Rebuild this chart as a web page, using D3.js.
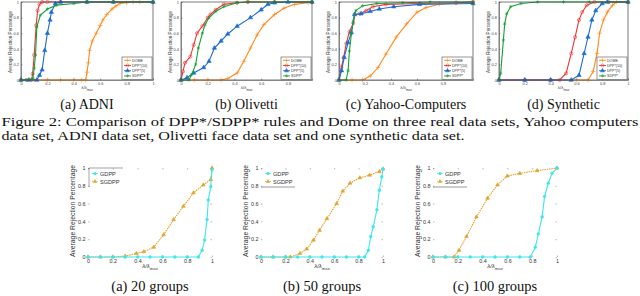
<!DOCTYPE html>
<html>
<head>
<meta charset="utf-8">
<script src="https://cdn.jsdelivr.net/npm/d3@7"></script>
<style>
  body { margin: 0; background: #fff; }
  svg { display: block; }
  .cap { font-family: "Liberation Serif", "Times New Roman", serif; font-size: 14px; fill: #111; }
  .tk text { font-family: "Liberation Sans", Arial, sans-serif; fill: #444; }
  .lab { font-family: "Liberation Sans", Arial, sans-serif; fill: #333; }
</style>
</head>
<body>
<script>
// ---- top row: ADNI, Olivetti, Yahoo-Computers, Synthetic ----
const topNames = ['DOME', 'DPP*(10)', 'DPP*(5)', 'SDPP*']

const adniDome = [[0,0],[0.1,0],[0.2,0],[0.3,0],[0.4,0],[0.46,0],[0.49,0],[0.5,0.1],[0.51,0.22],[0.52,0.38],[0.54,0.5],[0.57,0.6],[0.6,0.7],[0.62,0.77],[0.65,0.84],[0.69,0.91],[0.72,0.95],[0.75,0.98],[0.8,0.99],[0.85,1],[0.9,1],[1,1]]
const adniDpp10 = [[0,0],[0.04,0],[0.08,0],[0.088,0.08],[0.1,0.32],[0.115,0.7],[0.126,0.89],[0.14,0.97],[0.16,1],[0.2,1],[0.3,1],[0.5,1],[0.7,1],[1,1]]
const adniDpp5 = [[0,0],[0.06,0],[0.12,0],[0.14,0.06],[0.16,0.13],[0.18,0.38],[0.2,0.6],[0.22,0.77],[0.23,0.87],[0.26,0.98],[0.3,1],[0.5,1],[0.7,1],[1,1]]
const adniSdpp = [[0,0],[0.05,0],[0.09,0.02],[0.1,0.15],[0.11,0.32],[0.12,0.68],[0.146,0.83],[0.2,0.91],[0.27,0.96],[0.4,0.98],[0.5,1],[0.7,1],[1,1]]

const oliDome = [[0,0],[0.1,0],[0.2,0],[0.3,0],[0.35,0.02],[0.42,0.09],[0.47,0.24],[0.52,0.41],[0.57,0.58],[0.62,0.71],[0.7,0.84],[0.77,0.92],[0.85,0.97],[0.95,0.99],[0.98,1]]
const oliDpp10 = [[0,0],[0.015,0.11],[0.03,0.22],[0.07,0.3],[0.095,0.45],[0.12,0.6],[0.16,0.69],[0.2,0.8],[0.22,0.84],[0.26,0.9],[0.32,0.97],[0.42,0.99],[0.5,1],[0.7,1],[0.98,1]]
const oliDpp5 = [[0,0],[0.045,0.03],[0.095,0.09],[0.17,0.16],[0.21,0.24],[0.25,0.41],[0.3,0.5],[0.35,0.59],[0.42,0.69],[0.52,0.8],[0.6,0.9],[0.65,0.97],[0.7,0.99],[0.8,1],[0.98,1]]
const oliSdpp = [[0,0],[0.06,0],[0.08,0.07],[0.11,0.2],[0.13,0.41],[0.16,0.6],[0.18,0.71],[0.21,0.8],[0.26,0.88],[0.32,0.94],[0.42,0.99],[0.5,1],[0.7,1],[0.98,1]]

const yahDome = [[0,0],[0.1,0],[0.18,0],[0.24,0.05],[0.3,0.16],[0.36,0.33],[0.44,0.55],[0.52,0.72],[0.6,0.87],[0.67,0.93],[0.77,0.97],[0.9,0.99],[1.03,1]]
const yahDpp10 = [[0,0],[0.018,0.16],[0.036,0.29],[0.056,0.47],[0.08,0.62],[0.11,0.73],[0.12,0.84],[0.16,0.85],[0.21,0.89],[0.26,0.94],[0.36,0.97],[0.62,0.98],[0.9,0.99],[1.03,1]]
const yahDpp5 = [[0,0],[0.02,0.12],[0.04,0.29],[0.07,0.48],[0.095,0.61],[0.12,0.84],[0.17,0.85],[0.24,0.88],[0.31,0.91],[0.42,0.94],[0.62,0.97],[1.03,0.98]]
const yahSdpp = [[0,0],[0.055,0],[0.07,0.12],[0.08,0.37],[0.095,0.59],[0.11,0.76],[0.13,0.89],[0.18,0.95],[0.29,0.98],[0.49,0.99],[0.7,1],[1.03,1]]

const synDome = [[0,0],[0.2,0],[0.4,0],[0.6,0],[0.69,0],[0.73,0.11],[0.76,0.34],[0.78,0.6],[0.81,0.77],[0.84,0.87],[0.88,0.96],[0.91,1],[1,1]]
const synDpp10 = [[0,0],[0.2,0],[0.4,0],[0.47,0],[0.52,0.085],[0.56,0.34],[0.59,0.55],[0.62,0.77],[0.645,0.87],[0.68,0.96],[0.74,1],[0.85,1],[1,1]]
const synDpp5 = [[0,0],[0.2,0],[0.4,0],[0.56,0],[0.62,0.06],[0.66,0.34],[0.69,0.55],[0.72,0.77],[0.75,0.89],[0.8,0.98],[0.84,1],[1,1]]
const synSdpp = [[0,0],[0.013,0.085],[0.034,0.51],[0.044,0.72],[0.06,0.85],[0.09,0.94],[0.17,0.98],[0.3,1],[0.5,1],[0.7,1],[1,1]]

const topCaptions = ['(a) ADNI', '(b) Olivetti', '(c) Yahoo-Computers', '(d) Synthetic']
const figCaption = [
  'Figure 2: Comparison of DPP*/SDPP* rules and Dome on three real data sets, Yahoo computers',
  'data set, ADNI data set, Olivetti face data set and one synthetic data set.'
]

// ---- bottom row: group lasso ----
const botNames = ['GDPP', 'SGDPP']
const g20Gdpp = [[0,0],[0.1,0],[0.2,0],[0.3,0],[0.4,0],[0.5,0],[0.6,0],[0.7,0],[0.8,0],[0.89,0],[0.92,0.075],[0.94,0.19],[0.96,0.42],[0.97,0.64],[0.99,0.79],[1,0.98]]
const g20Sgdpp = [[0,0],[0.1,0],[0.2,0],[0.3,0.01],[0.39,0.04],[0.45,0.06],[0.53,0.11],[0.61,0.25],[0.69,0.42],[0.77,0.57],[0.85,0.72],[0.93,0.81],[0.99,0.87],[1,1]]
const g50Gdpp = [[0,0],[0.1,0],[0.2,0],[0.3,0],[0.4,0],[0.5,0],[0.6,0],[0.7,0],[0.8,0],[0.85,0],[0.88,0.075],[0.9,0.23],[0.92,0.34],[0.95,0.53],[0.97,0.75],[0.99,0.9],[1,0.99]]
const g50Sgdpp = [[0,0],[0.1,0],[0.2,0],[0.24,0],[0.32,0.04],[0.375,0.09],[0.43,0.19],[0.48,0.3],[0.54,0.43],[0.62,0.6],[0.67,0.74],[0.73,0.83],[0.81,0.89],[0.89,0.92],[0.97,0.96],[1,0.99]]
const g100Gdpp = [[0,0],[0.1,0],[0.2,0],[0.3,0],[0.4,0],[0.5,0],[0.6,0],[0.7,0],[0.785,0],[0.825,0.11],[0.85,0.26],[0.88,0.45],[0.9,0.68],[0.93,0.83],[0.96,0.94],[1,1]]
const g100Sgdpp = [[0,0],[0.1,0],[0.17,0],[0.21,0.075],[0.27,0.23],[0.35,0.45],[0.44,0.66],[0.52,0.81],[0.6,0.91],[0.7,0.94],[0.84,0.97],[1,1]]

const botCaptions = ['(a) 20 groups', '(b) 50 groups', '(c) 100 groups']
const yTicks = [0, 0.2, 0.4, 0.6, 0.8, 1]

const w = 640
const h = 296

const topColors = ['#ff8a1c', '#f03434', '#1f6cd0', '#12a035']
const topSymbols = [d3.symbolPlus, d3.symbolCircle, d3.symbolTriangle, d3.symbolAsterisk]
const topFilled = [false, false, true, false]
const botColors = ['#3ee6ee', '#e3a22c']

const svg = d3.select('body').append('svg')
  .attr('width', w)
  .attr('height', h)

const fmt = d => d3.format('~g')(d)

drawMarkers = (g, data, x, y, symbol, size, color, filled) => {
  g.selectAll(null)
    .data(data)
    .enter()
    .append('path')
    .attr('d', d3.symbol().type(symbol).size(size))
    .attr('transform', d => `translate(${x(d[0])},${y(d[1])})`)
    .attr('fill', filled ? color : 'none')
    .attr('stroke', color)
    .attr('stroke-width', 0.6)
}

xLabel = (g, cx, cy, fs, italic) => {
  const t = g.append('text').attr('class', 'lab')
    .attr('x', cx).attr('y', cy)
    .attr('text-anchor', 'middle')
    .style('font-size', fs + 'px')
    .style('font-style', italic ? 'italic' : 'normal')
  t.append('tspan').text('λ/λ')
  t.append('tspan').attr('dy', fs * 0.35).style('font-size', (fs * 0.7) + 'px').text('max')
}

yLabel = (g, cx, cy, fs) => {
  g.append('text').attr('class', 'lab')
    .attr('transform', `translate(${cx},${cy}) rotate(-90)`)
    .attr('text-anchor', 'middle')
    .style('font-size', fs + 'px')
    .text('Average Rejection Percentage')
}

// top plots
const topPlots = [
  { x0: 21, x1: 153, xMax: 1, xt: [0, 0.2, 0.4, 0.6, 0.8, 1], ylx: 12, series: [adniDome, adniDpp10, adniDpp5, adniSdpp] },
  { x0: 181, x1: 312, xMax: 0.98, xt: [0, 0.2, 0.4, 0.6, 0.8], ylx: 172, series: [oliDome, oliDpp10, oliDpp5, oliSdpp] },
  { x0: 339, x1: 473, xMax: 1.03, xt: [0, 0.2, 0.4, 0.6, 0.8], ylx: 330, series: [yahDome, yahDpp10, yahDpp5, yahSdpp] },
  { x0: 499, x1: 628, xMax: 1, xt: [0, 0.2, 0.4, 0.6, 0.8, 1], ylx: 490, series: [synDome, synDpp10, synDpp5, synSdpp] }
]

topPlots.forEach((p, i) => {
  const g = svg.append('g')
  const x = d3.scaleLinear().domain([0, p.xMax]).range([p.x0, p.x1])
  const y = d3.scaleLinear().domain([0, 1]).range([80, 2])

  const xAxis = d3.axisBottom(x).tickValues(p.xt).tickSize(-1.5).tickPadding(2).tickFormat(fmt)
  const yAxis = d3.axisLeft(y).tickValues(yTicks).tickSize(-1.5).tickPadding(2).tickFormat(fmt)
  g.append('g').attr('class', 'tk').attr('transform', 'translate(0,80)').call(xAxis)
  g.append('g').attr('class', 'tk').attr('transform', `translate(${p.x0},0)`).call(yAxis)
  g.selectAll('.tk text').style('font-size', '3.9px')
  g.selectAll('.tk path, .tk line').attr('stroke', '#555').attr('stroke-width', 0.5)

  const line = d3.line().x(d => x(d[0])).y(d => y(d[1]))
  p.series.forEach((s, k) => {
    g.append('path').datum(s)
      .attr('d', line)
      .attr('fill', 'none')
      .attr('stroke', topColors[k])
      .attr('stroke-width', 1.1)
    drawMarkers(g, s, x, y, topSymbols[k], 8, topColors[k], topFilled[k])
  })

  // frame
  g.append('rect')
    .attr('x', p.x0).attr('y', 2)
    .attr('width', p.x1 - p.x0).attr('height', 78)
    .attr('fill', 'none').attr('stroke', '#444').attr('stroke-width', 0.7)

  // legend
  const lx = p.x1 - 31, ly = 57
  g.append('rect').attr('x', lx).attr('y', ly).attr('width', 30).attr('height', 22.5)
    .attr('fill', '#fff').attr('stroke', '#333').attr('stroke-width', 0.5)
  topNames.forEach((n, k) => {
    const yy = ly + 3.3 + k * 5.2
    g.append('line').attr('x1', lx + 2).attr('x2', lx + 9).attr('y1', yy).attr('y2', yy)
      .attr('stroke', topColors[k]).attr('stroke-width', 0.9)
    g.append('path').attr('d', d3.symbol().type(topSymbols[k]).size(7))
      .attr('transform', `translate(${lx + 5.5},${yy})`)
      .attr('fill', topFilled[k] ? topColors[k] : 'none')
      .attr('stroke', topColors[k]).attr('stroke-width', 0.5)
    g.append('text').attr('class', 'lab')
      .attr('x', lx + 10).attr('y', yy + 1.3)
      .style('font-size', '3.6px')
      .text(n)
  })

  xLabel(g, (p.x0 + p.x1) / 2, 89, 4.4, false)
  yLabel(g, p.ylx, 42, 4.6)

  svg.append('text').attr('class', 'cap')
    .attr('x', (p.x0 + p.x1) / 2).attr('y', 109)
    .attr('text-anchor', 'middle')
    .text(topCaptions[i])
})

svg.append('text').attr('class', 'cap').attr('x', 1.5).attr('y', 126)
  .style('font-size', '12px')
  .attr('textLength', 637).attr('lengthAdjust', 'spacingAndGlyphs')
  .text(figCaption[0])
svg.append('text').attr('class', 'cap').attr('x', 1.5).attr('y', 139.5)
  .style('font-size', '12px')
  .attr('textLength', 463).attr('lengthAdjust', 'spacingAndGlyphs')
  .text(figCaption[1])

// bottom plots
const botPlots = [
  { x0: 88, x1: 212, series: [g20Gdpp, g20Sgdpp] },
  { x0: 261, x1: 383, series: [g50Gdpp, g50Sgdpp] },
  { x0: 433, x1: 557, series: [g100Gdpp, g100Sgdpp] }
]

botPlots.forEach((p, i) => {
  const g = svg.append('g')
  const x = d3.scaleLinear().domain([0, 1]).range([p.x0, p.x1])
  const y = d3.scaleLinear().domain([0, 1]).range([257, 168])

  const xAxis = d3.axisBottom(x).tickValues(yTicks).tickSize(-1.5).tickPadding(2).tickFormat(fmt)
  const yAxis = d3.axisLeft(y).tickValues(yTicks).tickSize(-1.5).tickPadding(2.5).tickFormat(fmt)
  const xTop = d3.axisTop(x).tickValues(yTicks).tickSize(-1.5).tickFormat('')
  const yRight = d3.axisRight(y).tickValues(yTicks).tickSize(-1.5).tickFormat('')
  g.append('g').attr('class', 'tk').attr('transform', 'translate(0,257)').call(xAxis)
  g.append('g').attr('class', 'tk').attr('transform', `translate(${p.x0},0)`).call(yAxis)
  g.append('g').attr('class', 'tk').attr('transform', 'translate(0,168)').call(xTop)
  g.append('g').attr('class', 'tk').attr('transform', `translate(${p.x1},0)`).call(yRight)
  g.selectAll('.tk .domain').remove()
  g.selectAll('.tk text').style('font-size', '5.4px').style('fill', '#333')
  g.selectAll('.tk line').attr('stroke', '#777').attr('stroke-width', 0.5)

  const line = d3.line().x(d => x(d[0])).y(d => y(d[1]))
  // SGDPP underneath, GDPP on top
  ;[1, 0].forEach(k => {
    const s = p.series[k]
    g.append('path').datum(s)
      .attr('d', line)
      .attr('fill', 'none')
      .attr('stroke', botColors[k])
      .attr('stroke-width', 1.1)
      .attr('stroke-dasharray', k === 1 ? '1.5,0.8' : null)
    drawMarkers(g, s, x, y, k === 0 ? d3.symbolCircle : d3.symbolTriangle, 6, botColors[k], true)
  })

  // legend
  const lx = p.x0, ly = 168
  if (i === 0) {
    g.append('path').attr('d', `M${lx + 1},${ly + 19}V${ly}H${lx + 35}`)
      .attr('fill', 'none').attr('stroke', '#666').attr('stroke-width', 0.6)
  } else {
    g.append('line').attr('x1', lx).attr('x2', lx + 34).attr('y1', ly + 19).attr('y2', ly + 19)
      .attr('stroke', '#555').attr('stroke-width', 0.6)
  }
  botNames.forEach((n, k) => {
    const yy = ly + 5.5 + k * 8
    g.append('line').attr('x1', lx + 4).attr('x2', lx + 10).attr('y1', yy).attr('y2', yy)
      .attr('stroke', botColors[k]).attr('stroke-width', 0.8)
      .attr('stroke-dasharray', k === 1 ? '1,0.8' : null)
    g.append('path').attr('d', d3.symbol().type(k === 0 ? d3.symbolCircle : d3.symbolTriangle).size(8))
      .attr('transform', `translate(${lx + 7},${yy})`)
      .attr('fill', botColors[k])
    g.append('text').attr('class', 'lab')
      .attr('x', lx + 12).attr('y', yy + 2)
      .style('font-size', '5.6px')
      .text(n)
  })

  xLabel(g, (p.x0 + p.x1) / 2, 268, 6, true)
  yLabel(g, p.x0 - 13, 211, 6.8)

  svg.append('text').attr('class', 'cap')
    .attr('x', (p.x0 + p.x1) / 2).attr('y', 291)
    .attr('text-anchor', 'middle')
    .style('font-size', '14.5px')
    .text(botCaptions[i])
})
</script>
</body>
</html>
